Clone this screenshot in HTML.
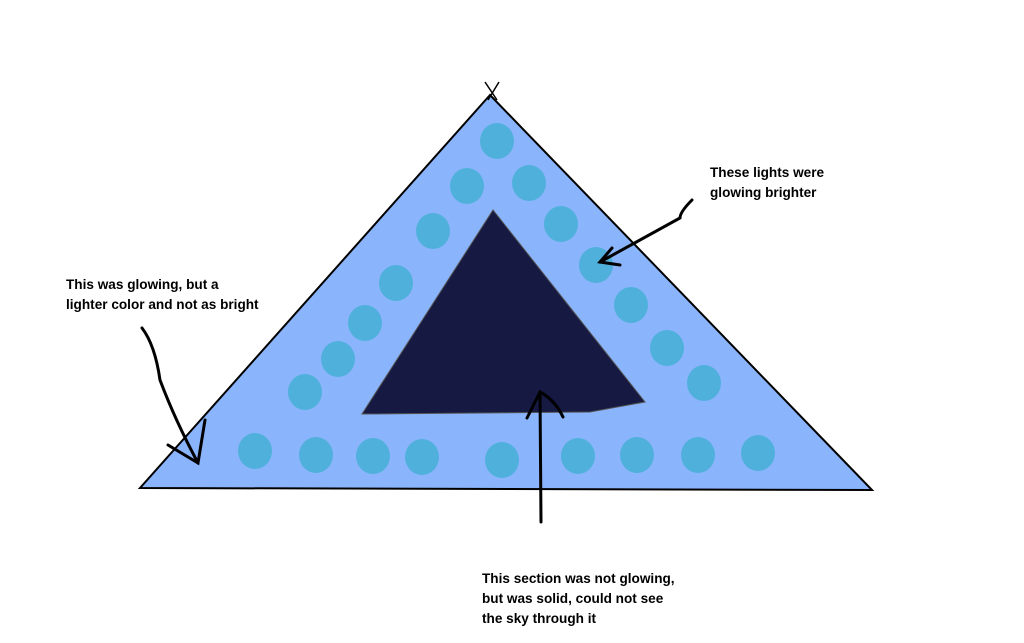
<!DOCTYPE html>
<html><head><style>
body{margin:0;background:#fff;}
svg{display:block}
text{font-family:"Liberation Sans",sans-serif;font-weight:bold;font-size:13.6px;fill:#000}
</style></head><body>
<svg width="1024" height="643" viewBox="0 0 1024 643">
<polygon points="490,95 140,488 872,490" fill="#8ab4fb" stroke="#000" stroke-width="2"/>
<line x1="485" y1="82" x2="497" y2="100" stroke="#000" stroke-width="1.5"/>
<line x1="499" y1="82" x2="488" y2="100" stroke="#000" stroke-width="1.5"/>
<polygon points="493,210 362,414 590,412 645,402" fill="#161942" stroke="#555" stroke-width="1"/>
<g fill="#50b0dc">
<ellipse cx="497" cy="141" rx="17" ry="18"/><ellipse cx="467" cy="186" rx="17" ry="18"/>
<ellipse cx="529" cy="183" rx="17" ry="18"/><ellipse cx="433" cy="231" rx="17" ry="18"/>
<ellipse cx="561" cy="224" rx="17" ry="18"/><ellipse cx="596" cy="265" rx="17" ry="18"/>
<ellipse cx="396" cy="283" rx="17" ry="18"/><ellipse cx="631" cy="305" rx="17" ry="18"/>
<ellipse cx="365" cy="323" rx="17" ry="18"/><ellipse cx="667" cy="348" rx="17" ry="18"/>
<ellipse cx="338" cy="359" rx="17" ry="18"/><ellipse cx="704" cy="383" rx="17" ry="18"/>
<ellipse cx="305" cy="392" rx="17" ry="18"/><ellipse cx="255" cy="451" rx="17" ry="18"/>
<ellipse cx="316" cy="455" rx="17" ry="18"/><ellipse cx="373" cy="456" rx="17" ry="18"/>
<ellipse cx="422" cy="457" rx="17" ry="18"/><ellipse cx="502" cy="460" rx="17" ry="18"/>
<ellipse cx="578" cy="456" rx="17" ry="18"/><ellipse cx="637" cy="455" rx="17" ry="18"/>
<ellipse cx="698" cy="455" rx="17" ry="18"/><ellipse cx="758" cy="453" rx="17" ry="18"/>
</g>
<g fill="none" stroke="#000" stroke-width="3" stroke-linecap="round">
<path d="M142,328 Q155,345 160,380 Q175,420 198,463"/>
<path d="M168,445 L198,463 L205,420"/>
<path d="M692,200 Q680,212 680,218 Q640,240 600,262"/>
<path d="M612,248 L600,262 L620,265"/>
<path d="M541,522 L540,392"/>
<path d="M527,418 L540,392 Q555,400 563,417"/>
</g>
<text x="710" y="177">These lights were</text>
<text x="710" y="197">glowing brighter</text>
<text x="66" y="289">This was glowing, but a</text>
<text x="66" y="309">lighter color and not as bright</text>
<text x="482" y="583">This section was not glowing,</text>
<text x="482" y="603">but was solid, could not see</text>
<text x="482" y="623">the sky through it</text>
</svg>
</body></html>
